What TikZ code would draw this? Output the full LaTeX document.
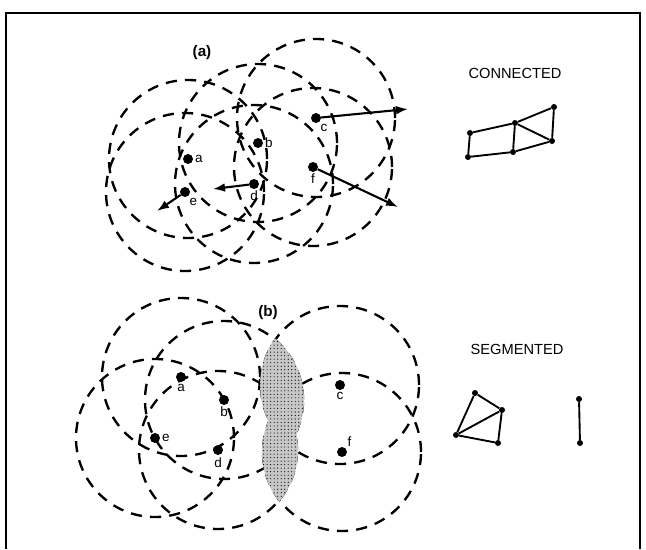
\documentclass[tikz,border=0pt]{standalone}
\usepackage{fontspec}
\setmainfont{Liberation Sans}
\usetikzlibrary{arrows.meta,patterns}

\begin{document}
\begin{tikzpicture}[x=0.03cm,y=-0.03cm,
    reach/.style={line width=2pt,dash pattern=on 9.5pt off 7pt},
    host/.style={circle,fill,inner sep=0pt,minimum size=3mm},
    vert/.style={circle,fill,inner sep=0pt,minimum size=1.8mm},
    lbl/.style={font=\fontsize{11.5}{12}\selectfont,inner sep=1.5pt},
    move/.style={line width=1.8pt,-{Latex[length=3.6mm,width=2.6mm]}},
    link/.style={line width=1.6pt}]
  \useasboundingbox (0,0) rectangle (646,549);
  \draw[line width=1.8pt] (6,549) -- (6,13) -- (640,13) -- (640,549);

  \node[font=\bfseries\fontsize{13}{14}\selectfont] (ta) at (202,53) {(a)};
  \node[font=\fontsize{12.5}{14}\selectfont] (tc) at (515,73) {CONNECTED};
  \node[host,label={[lbl]right:a}] (ca) at (188,159) {};
  \node[host,label={[lbl]right:b}] (cb) at (258,143) {};
  \node[host,label={[lbl]-60:c}] (cc) at (316,118) {};
  \node[host,label={[lbl]below:d}] (cd) at (254,184) {};
  \node[host,label={[lbl]-60:e}] (ce) at (185,192) {};
  \node[host,label={[lbl]below:f}] (cf) at (313,167) {};
  \foreach \n in {a,b,c,d,e,f}
    \draw[reach] (c\n) circle (2.37cm);
  \coordinate (mc) at (408,109);
  \coordinate (mf) at (398,207);
  \coordinate (md) at (213,189);
  \coordinate (me) at (157,211);
  \foreach \n in {c,f,d,e}
    \draw[move] (c\n) -- (m\n);

  \node[vert] (g1) at (470,133) {};
  \node[vert] (g2) at (515,123) {};
  \node[vert] (g3) at (554,107) {};
  \node[vert] (g4) at (552,141) {};
  \node[vert] (g5) at (513,152) {};
  \node[vert] (g6) at (468,157) {};
  \draw[link] (g1) -- (g2) -- (g3) -- (g4) -- (g5) -- (g6) -- (g1)
    (g2) -- (g4) (g2) -- (g5);

  \node[font=\bfseries\fontsize{13}{14}\selectfont] (tb) at (268,313) {(b)};
  \node[font=\fontsize{12.5}{14}\selectfont] (ts) at (517,349) {SEGMENTED};
  \node[host,label={[lbl]below:a}] (sa) at (181,377) {};
  \node[host,label={[lbl]below:b}] (sb) at (224,400) {};
  \node[host,label={[lbl]below:c}] (sc) at (340,385) {};
  \node[host,label={[lbl]below:d}] (sd) at (218,450) {};
  \node[host,label={[lbl]right:e}] (se) at (155,438) {};
  \node[host,label={[lbl]45:f}] (sf) at (342,452) {};
  \foreach \n in {a,b,c,d,e,f}
    \draw[reach] (s\n) circle (2.37cm);
  \begin{scope}
    \clip (sb) circle (2.4cm);
    \fill[black!22] (sc) circle (2.4cm);
    \fill[pattern=dots] (sc) circle (2.4cm);
  \end{scope}
  \begin{scope}
    \clip (sd) circle (2.4cm);
    \fill[black!22] (sf) circle (2.4cm);
    \fill[pattern=dots] (sf) circle (2.4cm);
  \end{scope}

  \node[vert] (h1) at (475,393) {};
  \node[vert] (h2) at (502,410) {};
  \node[vert] (h3) at (456,435) {};
  \node[vert] (h4) at (498,443) {};
  \node[vert] (h5) at (579,399) {};
  \node[vert] (h6) at (580,443) {};
  \draw[link] (h1) -- (h2) -- (h4) -- (h3) -- (h1) (h3) -- (h2) (h5) -- (h6);
\end{tikzpicture}
\end{document}
